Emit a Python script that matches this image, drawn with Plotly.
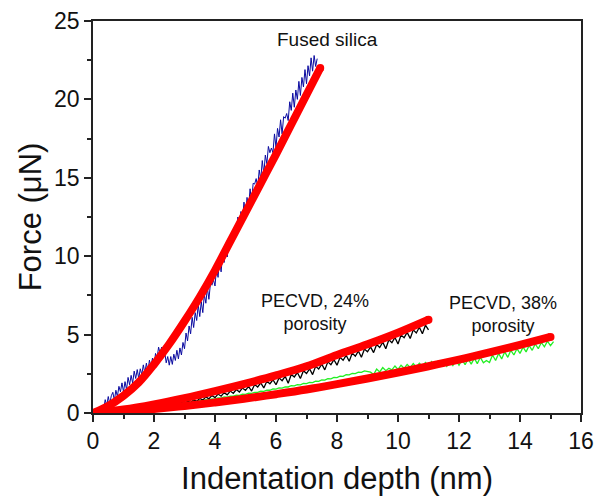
import numpy as np
import plotly.graph_objects as go

# fitted curves (red)
fused_fit_x = [0, 0.5, 1, 1.5, 2, 2.5, 3, 3.5, 4, 4.5, 5, 5.5, 6, 6.5, 7, 7.45]
fused_fit_y = [0, 0.45, 1.1, 1.95, 3.1, 4.4, 5.85, 7.4, 9.1, 10.95, 12.8, 14.65, 16.5, 18.4, 20.3, 22.0]

p24_fit_x = [0, 1, 2, 3, 4, 5, 6, 7, 8, 9, 10, 11]
p24_fit_y = [0, 0.22, 0.55, 0.95, 1.4, 1.88, 2.4, 2.98, 3.7, 4.38, 5.12, 5.95]

p38_fit_x = [0, 1, 2, 3, 4, 5, 6, 7, 8, 9, 10, 11, 12, 13, 14, 15]
p38_fit_y = [0, 0.1, 0.26, 0.45, 0.67, 0.92, 1.2, 1.5, 1.84, 2.2, 2.58, 2.98, 3.4, 3.86, 4.35, 4.85]

# measured load curves (depth sampled on a regular grid)
fused_y = [0.50, 0.25, 0.85, 0.47, 1.05, 0.58, 1.10, 1.32, 0.80, 1.45, 1.05, 1.70, 1.35, 1.92, 1.35, 2.00,
           1.50, 2.27, 1.80, 2.40, 1.90, 2.67, 2.20, 2.77, 2.20, 2.82, 2.45, 3.07, 2.55, 3.18, 2.65, 3.37,
           2.95, 3.50, 3.00, 3.80, 3.50, 4.20, 3.80, 4.20, 3.50, 3.90, 3.20, 3.60, 3.05, 3.60, 3.10, 3.75,
           3.35, 4.00, 3.45, 4.15, 3.70, 4.50, 4.10, 5.10, 4.60, 5.55, 5.05, 6.10, 5.45, 6.40, 5.90, 6.90,
           6.15, 7.10, 6.40, 7.55, 7.00, 8.00, 7.25, 8.25, 8.15, 8.50, 8.10, 9.25, 8.65, 9.80, 9.00, 10.10,
           9.60, 10.70, 9.95, 11.05, 10.90, 11.20, 10.85, 11.85, 11.30, 12.50, 11.70, 12.85, 12.30, 13.45,
           12.60, 13.75, 13.10, 14.30, 13.45, 14.65, 14.60, 14.95, 14.40, 15.50, 14.90, 16.10, 15.25, 16.45,
           15.90, 17.00, 16.60, 16.90, 16.60, 17.80, 16.95, 18.15, 17.60, 18.70, 17.80, 18.90, 18.80, 19.10,
           18.65, 19.85, 19.30, 20.40, 19.50, 20.60, 20.00, 21.15, 20.25, 21.40, 20.80, 21.90, 21.00, 22.15,
           21.50, 22.65, 21.80, 22.80, 22.10, 22.60]
fused_x = np.round(np.linspace(0.30, 7.35, len(fused_y)), 3)

p24_y = [0.14, 0.22, 0.16, 0.28, 0.22, 0.34, 0.28, 0.42, 0.36, 0.50, 0.44, 0.57, 0.50, 0.66, 0.58, 0.75,
         0.66, 0.84, 0.74, 0.94, 0.82, 1.03, 0.90, 1.12, 0.98, 1.21, 1.07, 1.30, 1.16, 1.40, 1.26, 1.50,
         1.34, 1.60, 1.44, 1.70, 1.40, 1.82, 1.66, 1.92, 1.60, 2.02, 1.86, 2.12, 1.80, 2.24, 2.06, 2.34,
         1.90, 2.46, 2.30, 2.58, 2.20, 2.70, 2.52, 2.82, 2.45, 2.98, 2.80, 3.12, 2.75, 3.26, 3.08, 3.40,
         3.05, 3.55, 3.36, 3.68, 3.30, 3.82, 3.62, 3.95, 3.55, 4.08, 3.90, 4.22, 3.85, 4.37, 4.18, 4.52,
         4.10, 4.67, 4.48, 4.82, 4.40, 4.97, 4.80, 5.14, 4.75, 5.30, 5.10, 5.47, 5.05, 5.60, 5.30]
p24_x = np.round(np.linspace(1.6, 11.0, len(p24_y)), 3)

p38_y = [0.28, 0.27, 0.30, 0.29, 0.32, 0.31, 0.34, 0.33, 0.37, 0.36, 0.40, 0.39, 0.43, 0.42, 0.46, 0.45,
         0.50, 0.49, 0.54, 0.53, 0.58, 0.57, 0.62, 0.61, 0.66, 0.65, 0.70, 0.69, 0.75, 0.74, 0.80, 0.79,
         0.85, 0.84, 0.90, 0.89, 0.96, 0.95, 1.02, 1.01, 1.08, 1.07, 1.14, 1.13, 1.20, 1.19, 1.26, 1.25,
         1.32, 1.31, 1.39, 1.38, 1.46, 1.45, 1.53, 1.52, 1.60, 1.59, 1.67, 1.66, 1.74, 1.73, 1.81, 1.80,
         1.88, 1.87, 1.95, 1.94, 2.03, 2.02, 2.11, 2.10, 2.19, 2.18, 2.27, 2.26, 2.35, 2.34, 2.44, 2.43,
         2.52, 2.51, 2.60, 2.59, 2.68, 2.66, 2.60, 2.45, 2.80, 2.62, 2.90, 2.70, 2.85, 2.75, 3.00, 2.78,
         3.05, 2.85, 3.10, 2.90, 3.15, 2.92, 3.18, 2.98, 3.22, 3.02, 3.28, 3.05, 3.30, 3.00, 3.32, 2.98,
         3.30, 3.02, 3.35, 3.05, 3.40, 3.08, 3.45, 3.12, 3.50, 3.15, 3.55, 3.20, 3.35, 3.22, 3.70, 3.35,
         3.80, 3.45, 3.90, 3.55, 4.00, 3.70, 4.10, 3.80, 4.20, 3.90, 4.30, 4.00, 4.40, 4.10, 4.50, 4.22,
         4.58, 4.30, 4.55]
p38_x = np.round(np.linspace(0.5, 15.1, len(p38_y)), 3)

x_ticks = [0, 2, 4, 6, 8, 10, 12, 14, 16]
y_ticks = [0, 5, 10, 15, 20, 25]

FONT = "Liberation Sans, Arial, sans-serif"
RED = "#ff0000"

fig = go.Figure()

fig.add_trace(go.Scatter(x=fused_x, y=fused_y, mode="lines",
                         line=dict(color="#0a0aa0", width=1)))
fig.add_trace(go.Scatter(x=p38_x, y=p38_y, mode="lines",
                         line=dict(color="#22ee22", width=1.3)))
fig.add_trace(go.Scatter(x=p24_x, y=p24_y, mode="lines",
                         line=dict(color="#000000", width=1.3)))

for fx, fy in [(fused_fit_x, fused_fit_y), (p24_fit_x, p24_fit_y), (p38_fit_x, p38_fit_y)]:
    fig.add_trace(go.Scatter(x=fx, y=fy, mode="lines", line_shape="spline",
                             line=dict(color=RED, width=8)))
    # rounded ends
    fig.add_trace(go.Scatter(x=[fx[0], fx[-1]], y=[fy[0], fy[-1]], mode="markers",
                             marker=dict(color=RED, size=8, line_width=0)))

fig.add_annotation(x=7.7, y=23.8, text="Fused silica", showarrow=False,
                   font=dict(size=19, color="#111"))
fig.add_annotation(x=7.28, y=6.4, text="PECVD, 24%<br>porosity", showarrow=False,
                   font=dict(size=18, color="#111"))
fig.add_annotation(x=13.44, y=6.3, text="PECVD, 38%<br>porosity", showarrow=False,
                   font=dict(size=18, color="#111"))

axis_common = dict(showline=True, linecolor="#222", linewidth=1.5, mirror=True,
                   showgrid=False, zeroline=False, ticks="outside", ticklen=7,
                   tickwidth=1.5, tickcolor="#222", tickfont=dict(size=23, color="#111"))

fig.update_xaxes(range=[0, 16], tickvals=x_ticks,
                 minor=dict(dtick=1, ticks="outside", ticklen=4, tickwidth=1.5, tickcolor="#222"),
                 title=dict(text="Indentation depth (nm)", font=dict(size=31, color="#111"), standoff=14),
                 **axis_common)
fig.update_yaxes(range=[0, 25], tickvals=y_ticks,
                 minor=dict(dtick=2.5, ticks="outside", ticklen=4, tickwidth=1.5, tickcolor="#222"),
                 title=dict(text="Force (μN)", font=dict(size=31, color="#111"), standoff=3),
                 **axis_common)

fig.update_layout(width=604, height=498, showlegend=False,
                  plot_bgcolor="white", paper_bgcolor="white",
                  font=dict(family=FONT),
                  margin=dict(l=85, r=31, t=13, b=93, autoexpand=False))

fig.write_html("out.html")
